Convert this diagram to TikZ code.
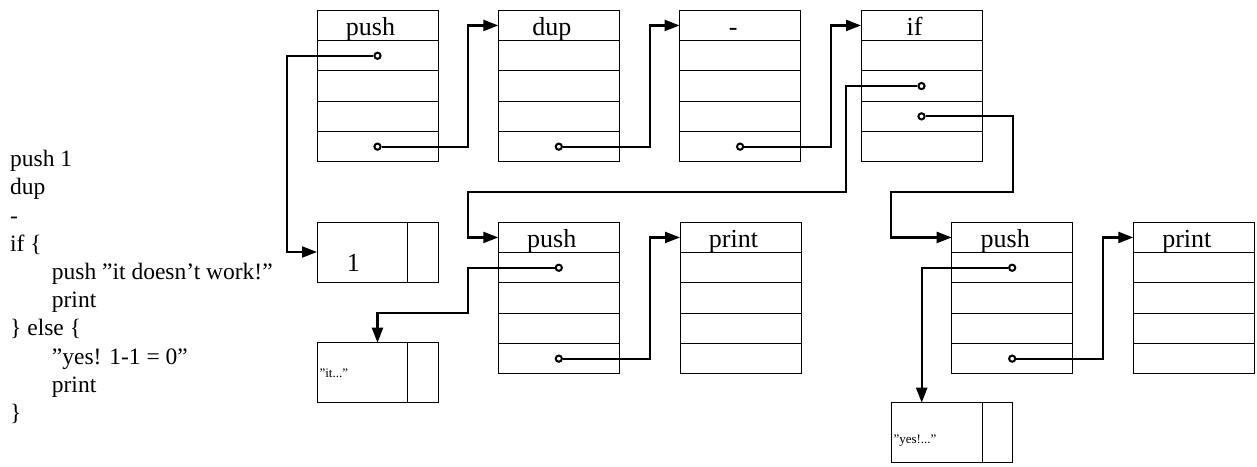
\documentclass[tikz,border=0pt]{standalone}
\usepackage{fontspec}
\setmainfont{Liberation Serif}
\usetikzlibrary{arrows.meta}

\tikzset{
  frame/.style={draw, rectangle, line width=1pt, inner sep=0pt, outer sep=0pt,
                minimum width=121pt, minimum height=151.5pt, anchor=north west},
  valframe/.style={frame, minimum height=60pt},
  rowline/.style={line width=1pt},
  hdr/.style={font=\fontsize{26}{30}\selectfont, inner sep=0pt, anchor=base},
  portdot/.style={circle, draw, line width=2pt, fill=white, inner sep=0pt, minimum size=6.2pt},
  wire/.style={line width=2.2pt, -{Triangle[length=15pt,width=11pt]}},
  code/.style={font=\fontsize{23.5}{28}\selectfont, inner sep=0pt, anchor=base west},
  tinytext/.style={font=\fontsize{13}{15}\selectfont, inner sep=0pt, anchor=base west},
  bigdigit/.style={font=\fontsize{26}{30}\selectfont, inner sep=0pt, anchor=base},
}

% a stack frame: name, top-left x, top-left y, header text
\newcommand\frameblock[4]{%
  \node[frame] (#1) at (#2,#3) {};
  \foreach \k in {1,2,3,4}{%
    \draw[rowline] ([yshift={-\k*30.3pt}]#1.north west) -- ([yshift={-\k*30.3pt}]#1.north east);}
  \node[hdr] (#1-t) at ([xshift=-7pt,yshift=-24.7pt]#1.north) {#4};
  \coordinate (#1-in) at ([yshift=-15.15pt]#1.north west);
}
% a pointer dot in row #2 of frame #1
\newcommand\portat[2]{%
  \node[portdot] (#1-o#2) at ([yshift={-(#2-0.5)*30.3pt}]#1.north) {};}
% a value cell: name, top-left x, top-left y
\newcommand\valcell[3]{%
  \node[valframe] (#1) at (#2,#3) {};
  \draw[rowline] ([xshift=90.7pt]#1.north west) -- ([xshift=90.7pt]#1.south west);
}

\begin{document}
\begin{tikzpicture}[x=1pt,y=-1pt]
\useasboundingbox (0,0) rectangle (1257,466);

% source program
\node[code] (l1) at (10,166.7) {push 1};
\node[code] (l2) at (10,194.9) {dup};
\node[code] (l3) at (10,223.1) {-};
\node[code] (l4) at (10,251.3) {if \{};
\node[code] (l5) at (51.7,279.5) {push ”it doesn’t work!”};
\node[code] (l6) at (51.7,307.7) {print};
\node[code] (l7) at (10,335.9) {\} else \{};
\node[code] (l8) at (51.7,364.1) {”yes! 1-1 = 0”};
\node[code] (l9) at (51.7,392.3) {print};
\node[code] (l10) at (10,420.5) {\}};

% frames
\frameblock{pushA}{317}{10.3}{push}
\frameblock{dup}{498.3}{10.3}{dup}
\frameblock{minus}{679.6}{10.3}{-}
\frameblock{ifb}{861}{10.3}{if}
\frameblock{pushB}{498.3}{222.3}{push}
\frameblock{printB}{680}{222.3}{print}
\frameblock{pushC}{951.7}{222.3}{push}
\frameblock{printC}{1133.3}{222.3}{print}

% values
\valcell{one}{317}{222}
\node[bigdigit] (one-t) at (353.3,271) {1};
\valcell{itv}{317}{342.7}
\node[tinytext] (itv-t) at (319.3,377) {”it...”};
\valcell{yesv}{891.7}{402.7}
\node[tinytext] (yesv-t) at (893.3,443) {”yes!...”};

% pointers
\portat{pushA}{2}
\portat{pushA}{5}
\portat{dup}{5}
\portat{minus}{5}
\portat{ifb}{3}
\portat{ifb}{4}
\portat{pushB}{2}
\portat{pushB}{5}
\portat{pushC}{2}
\portat{pushC}{5}

\coordinate (bendA) at (845.7,191.7);
\coordinate (bendB) at (1012.7,191.7);
\coordinate (bendC) at (468.3,312.7);

\draw[wire] (pushA-o2.west) -| ([xshift=-30.3pt]one.west) -- (one.west);
\draw[wire] (pushA-o5.east) -| ([xshift=-30pt]dup-in) -- (dup-in);
\draw[wire] (dup-o5.east) -| ([xshift=-30pt]minus-in) -- (minus-in);
\draw[wire] (minus-o5.east) -| ([xshift=-30pt]ifb-in) -- (ifb-in);
\draw[wire] (ifb-o3.west) -| (bendA) -| ([xshift=-30pt]pushB-in) -- (pushB-in);
\draw[wire] (ifb-o4.east) -| (bendB) -| ([xshift=-60.7pt]pushC-in) -- (pushC-in);
\draw[wire] (pushB-o2.west) -| (bendC) -| (itv.north);
\draw[wire] (pushB-o5.east) -| ([xshift=-30pt]printB-in) -- (printB-in);
\draw[wire] (pushC-o2.west) -| ([xshift=30pt]yesv.north west);
\draw[wire] (pushC-o5.east) -| ([xshift=-30.6pt]printC-in) -- (printC-in);
\end{tikzpicture}
\end{document}
